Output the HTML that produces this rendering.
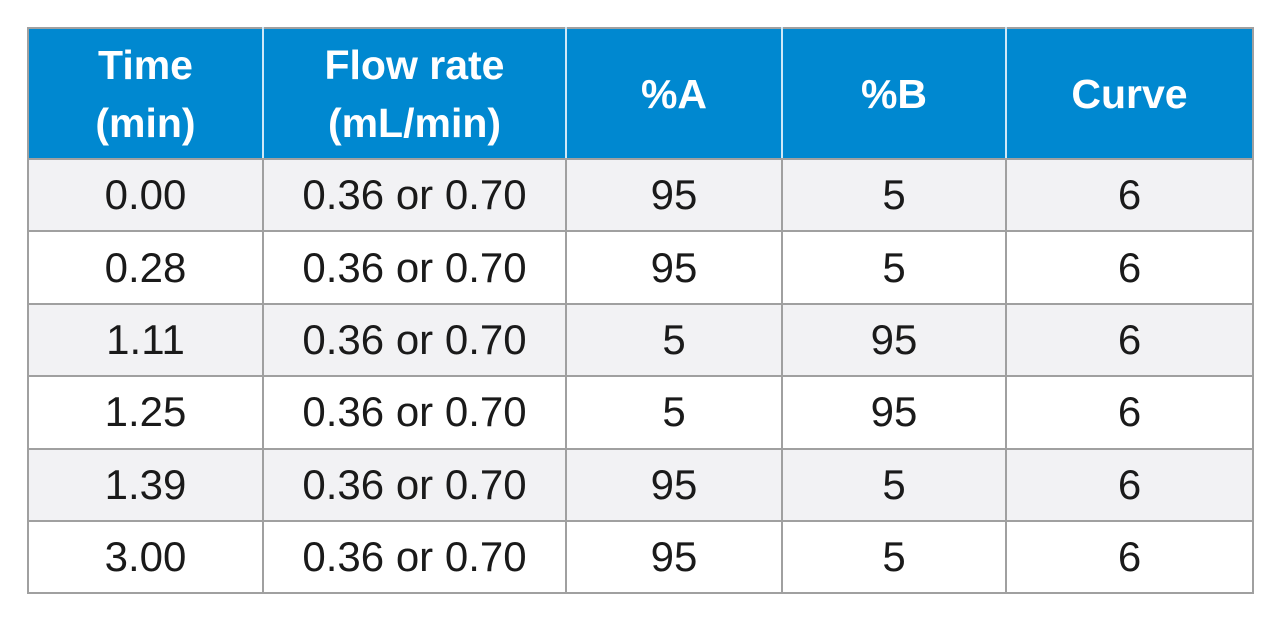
<!DOCTYPE html>
<html><head><style>
body{margin:0;width:1280px;height:622px;background:#fff;font-family:"Liberation Sans",sans-serif;position:relative;overflow:hidden}
table{position:absolute;left:27px;top:27px;border-collapse:collapse;width:1227px}
td,th{border:2px solid #a0a0a0;text-align:center;font-size:42px;color:#1a1a1a;padding:0}
th{background:#0088d0;color:#fff;font-weight:bold;font-size:41px;height:129px;line-height:58px;border-left:2px solid #cfe8f7;border-right:2px solid #cfe8f7;border-top:2px solid #a0a0a0}
th:first-child{border-left:2px solid #a0a0a0}th:last-child{border-right:2px solid #a0a0a0}
td{height:70.4px;line-height:70px}
tr:nth-child(even) td{background:#f2f2f4}
</style></head><body>
<table>
<tr><th style="width:233px">Time<br>(min)</th><th style="width:301px">Flow rate<br>(mL/min)</th><th style="width:214px">%A</th><th style="width:222px">%B</th><th>Curve</th></tr>
<tr><td>0.00</td><td>0.36 or 0.70</td><td>95</td><td>5</td><td>6</td></tr>
<tr><td>0.28</td><td>0.36 or 0.70</td><td>95</td><td>5</td><td>6</td></tr>
<tr><td>1.11</td><td>0.36 or 0.70</td><td>5</td><td>95</td><td>6</td></tr>
<tr><td>1.25</td><td>0.36 or 0.70</td><td>5</td><td>95</td><td>6</td></tr>
<tr><td>1.39</td><td>0.36 or 0.70</td><td>95</td><td>5</td><td>6</td></tr>
<tr><td>3.00</td><td>0.36 or 0.70</td><td>95</td><td>5</td><td>6</td></tr>
</table>
</body></html>
